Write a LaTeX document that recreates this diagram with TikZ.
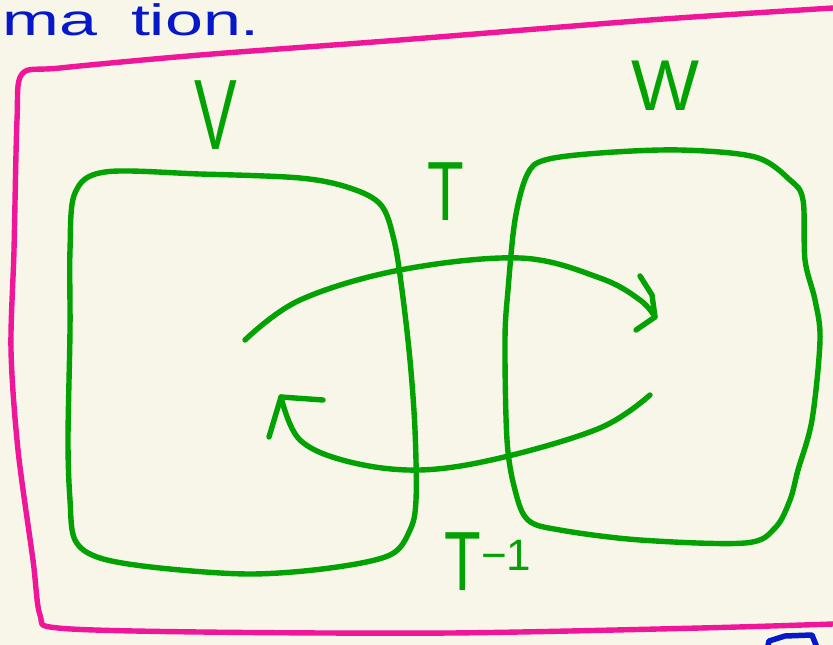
\documentclass[tikz,border=0pt]{standalone}
\usepackage{fontspec}
\setmainfont{Liberation Sans}
\definecolor{bgc}{HTML}{F8F5E9}
\definecolor{pinkc}{HTML}{F0169A}
\definecolor{greenc}{HTML}{02A202}
\definecolor{bluec}{HTML}{0618C8}
\begin{document}
\begin{tikzpicture}[x=1pt,y=-1pt,
  gline/.style={draw=greenc,line width=5.4pt,line cap=round,line join=round},
  pline/.style={draw=pinkc,line width=5.4pt,line cap=round,line join=round},
  bline/.style={draw=bluec,line width=5.5pt,line cap=round,line join=round},
  glabel/.style={text=greenc,inner sep=0pt}]
\useasboundingbox (0,0) rectangle (833,645);
\clip (0,0) rectangle (833,645);
\fill[bgc] (0,0) rectangle (833,645);
% top cut-off text
\node[text=bluec,font=\fontsize{44}{44}\selectfont,anchor=base west,inner sep=0pt] (top) at (2,35) {\scalebox{1.55}[1]{ma\,\,\,tion.}};
% pink frame
\draw[pline] plot[smooth,tension=0.5] coordinates {(833,8) (650,20) (400,40) (200,55) (60,68) (22,74) (17,120) (14,250) (11,350) (18,450) (33,560) (40,615) (58,628) (200,632) (450,633) (700,628) (833,624)};
% blue fragment
\draw[bline] (767,650) -- (769,641) -- (785,636) -- (812,635) -- (818,650);
% left box V
\draw[gline] plot[smooth cycle,tension=0.55] coordinates {(105,172) (200,174) (300,178) (350,188) (381,205) (394,240) (402,290) (410,360) (415,430) (416,500) (410,530) (390,555) (330,568) (250,574) (160,568) (100,558) (75,540) (70,500) (68,440) (70,330) (70,250) (75,193)};
% right box W
\draw[gline] plot[smooth cycle,tension=0.55] coordinates {(545,160) (600,153) (680,150) (755,157) (790,180) (803,200) (805,260) (815,300) (820,340) (812,420) (798,470) (790,500) (775,528) (745,543) (640,540) (560,530) (528,520) (515,490) (507,440) (505,340) (508,290) (515,220) (527,175)};
% T arrow
\coordinate (ta) at (245,340);
\coordinate (tb) at (655,317);
\draw[gline] plot[smooth,tension=0.6] coordinates {(ta) (300,300) (400,270) (520,258) (600,278) (640,300) (tb)};
\draw[gline] (640,276) -- (652,295) -- (tb) -- (636,330);
% T^-1 arrow
\coordinate (ua) at (650,395);
\coordinate (ub) at (281,397);
\draw[gline] plot[smooth,tension=0.6] coordinates {(ua) (600,428) (500,458) (420,470) (350,462) (300,440) (ub)};
\draw[gline] (269,437) -- (ub) -- (323,400);
% labels
\node[glabel,font=\fontsize{80}{80}\selectfont] (V) at (216,115) {\scalebox{0.8}[1.25]{V}};
\node[glabel,font=\fontsize{80}{80}\selectfont] (T) at (446,192) {\scalebox{0.75}[1.05]{T}};
\node[glabel,font=\fontsize{72}{72}\selectfont] (W) at (665,86) {\scalebox{1.0}[1.0]{W}};
\node[glabel,font=\fontsize{80}{80}\selectfont,anchor=center] (Tinv) at (488,562) {\scalebox{0.75}[1.05]{T}\raisebox{0.25em}{\fontsize{44}{44}\selectfont −1}};
\end{tikzpicture}
\end{document}
